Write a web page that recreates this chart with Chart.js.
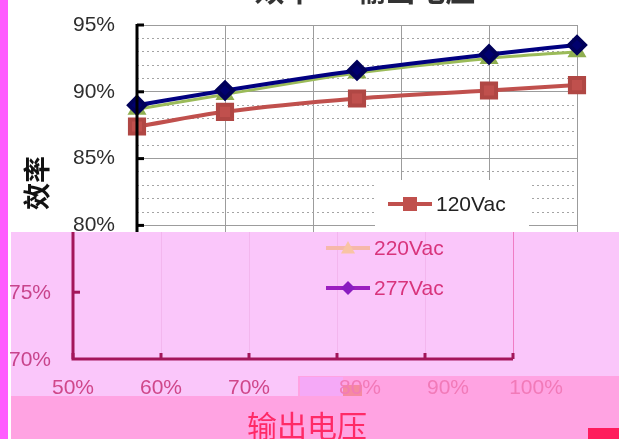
<!DOCTYPE html>
<html>
<head>
<meta charset="utf-8">
<script src="https://cdn.jsdelivr.net/npm/chart.js@4/dist/chart.umd.min.js"></script>
<style>
    html, body { margin: 0; padding: 0; background: #fff; }
    canvas { display: block; }
</style>
</head>
<body>
<canvas id="graficoEficiencia" width="619" height="439"></canvas>
<script>
// DADOS
const tensao = [50, 60, 75, 90, 100];
const efic120 = [87.4, 88.5, 89.5, 90.1, 90.5];
const efic220 = [88.7, 89.8, 91.4, 92.5, 93.0];
const efic277 = [89.0, 90.1, 91.6, 92.8, 93.5];
const rotulos = ['120Vac', '220Vac', '277Vac'];
const ticksX = [50, 60, 70, 80, 90, 100];
const ticksY = [70, 75, 80, 85, 90, 95];
const tituloGrafico = '效率 — 输出电压';
const tituloX = '输出电压';
const tituloY = '效率';

const FONTE = "'Liberation Sans', Arial, sans-serif";
const FONTE_CJK = "'Noto Sans CJK SC', sans-serif";
const DESLOC = -64; // faixa rosa deslocada

const pontos = arr => tensao.map((v, i) => ({ x: v, y: arr[i] }));

// MARCADORES
function marcador(ctx, tipo, x, y, r, cor) {
    ctx.fillStyle = cor;
    ctx.beginPath();
    if (tipo === 'rect') {
        ctx.rect(x - r, y - r, 2 * r, 2 * r);
    } else if (tipo === 'rectRot') {
        ctx.moveTo(x, y - r); ctx.lineTo(x + r, y); ctx.lineTo(x, y + r); ctx.lineTo(x - r, y);
    } else {
        ctx.moveTo(x, y - r); ctx.lineTo(x + r, y + r * 0.8); ctx.lineTo(x - r, y + r * 0.8);
    }
    ctx.closePath();
    ctx.fill();
}

function itemLegenda(ctx, x, y, cor, corMarca, tipo, r, texto, corTexto) {
    ctx.strokeStyle = cor;
    ctx.lineWidth = 4;
    ctx.beginPath(); ctx.moveTo(x, y); ctx.lineTo(x + 44, y); ctx.stroke();
    marcador(ctx, tipo, x + 22, y, r, corMarca);
    ctx.fillStyle = corTexto;
    ctx.font = '21px ' + FONTE;
    ctx.textAlign = 'left';
    ctx.textBaseline = 'middle';
    ctx.fillText(texto, x + 48, y + 1);
}

// CAMADA FINAL: eixos, legenda e faixa rosa
const camada = {
    id: 'camada',
    afterDraw(chart) {
        const { ctx, scales: { x, y } } = chart;
        const px = v => x.getPixelForValue(v);
        const py = v => y.getPixelForValue(v);
        const ds = chart.data.datasets;
        ctx.save();

        // titulo (cortado no topo)
        ctx.fillStyle = '#333';
        ctx.font = 'bold 30px ' + FONTE_CJK;
        ctx.textAlign = 'center';
        ctx.textBaseline = 'alphabetic';
        ctx.fillText(tituloGrafico, 365, 1);

        // eixo Y preto
        ctx.strokeStyle = '#000';
        ctx.lineWidth = 3;
        ctx.beginPath(); ctx.moveTo(px(50), py(95) - 1); ctx.lineTo(px(50), py(70)); ctx.stroke();
        ticksY.forEach(v => {
            ctx.beginPath(); ctx.moveTo(px(50), py(v)); ctx.lineTo(px(50) + 7, py(v)); ctx.stroke();
        });

        // titulo eixo Y
        ctx.save();
        ctx.translate(37, 183);
        ctx.rotate(-Math.PI / 2);
        ctx.fillStyle = '#111';
        ctx.font = 'bold 27px ' + FONTE_CJK;
        ctx.textAlign = 'center';
        ctx.textBaseline = 'middle';
        ctx.fillText(tituloY, 0, 0);
        ctx.restore();

        // legenda
        ctx.fillStyle = '#fff';
        ctx.fillRect(375, 180, 154, 60);
        itemLegenda(ctx, 388, 204, ds[0].borderColor, ds[0].pointBackgroundColor, 'rect', 7, ds[0].label, '#222');

        // faixa rosa
        ctx.fillStyle = '#ff5cff';
        ctx.fillRect(0, 0, 8, 439);
        ctx.fillStyle = '#fac6fa';
        ctx.fillRect(11, 232, 608, 207);
        ctx.fillStyle = '#ffa3e2';
        ctx.fillRect(298, 376, 321, 63);
        ctx.fillRect(11, 396, 608, 43);

        const topo = 232;
        const base = py(70);
        const esq = px(50) + DESLOC;
        const dir = px(100) + DESLOC;

        // grade rosa
        ctx.lineWidth = 1;
        ctx.strokeStyle = '#f3b6ee';
        ticksX.slice(1, -1).forEach(v => {
            ctx.beginPath(); ctx.moveTo(px(v) + DESLOC + 0.5, topo); ctx.lineTo(px(v) + DESLOC + 0.5, base); ctx.stroke();
        });
        ctx.strokeStyle = '#f07cc4';
        ctx.beginPath(); ctx.moveTo(dir + 0.5, topo); ctx.lineTo(dir + 0.5, base); ctx.stroke();

        // eixos rosa
        ctx.strokeStyle = '#a3165a';
        ctx.lineWidth = 3;
        ctx.beginPath(); ctx.moveTo(esq, topo); ctx.lineTo(esq, base); ctx.lineTo(dir, base); ctx.stroke();
        ticksX.forEach(v => {
            ctx.beginPath(); ctx.moveTo(px(v) + DESLOC, base); ctx.lineTo(px(v) + DESLOC, base - 6); ctx.stroke();
        });
        ctx.beginPath(); ctx.moveTo(esq, py(75)); ctx.lineTo(esq + 7, py(75)); ctx.stroke();

        // rotulos Y rosa
        ctx.fillStyle = '#c8448c';
        ctx.font = '21px ' + FONTE;
        ctx.textAlign = 'right';
        ctx.textBaseline = 'middle';
        ticksY.filter(v => v < 80).forEach(v => ctx.fillText(v + '%', px(50) - 22 + DESLOC, py(v) + 1));

        // rotulos X rosa
        ctx.fillStyle = '#f5a9f7';
        ctx.fillRect(300, 377, 43, 19);
        ctx.fillStyle = '#f58aa0';
        ctx.fillRect(343, 385, 19, 11);
        ctx.textAlign = 'center';
        ticksX.forEach(v => {
            const claro = v >= 80;
            ctx.fillStyle = claro ? '#f27ab8' : '#d0478a';
            ctx.fillText(v + '%', px(v) + (claro ? -41 : DESLOC), 388);
        });

        // legenda rosa
        itemLegenda(ctx, 326, 248, '#f6b8aa', '#f9c4a4', 'triangle', 7, ds[1].label, '#d8347c');
        itemLegenda(ctx, 326, 288, '#9b1fc0', '#8a1cc0', 'rectRot', 7, ds[2].label, '#d8347c');

        // titulo eixo X
        ctx.fillStyle = '#ff2a66';
        ctx.font = '30px ' + FONTE_CJK;
        ctx.textAlign = 'center';
        ctx.textBaseline = 'top';
        ctx.fillText(tituloX, 307, 411);

        // canto inferior
        ctx.fillStyle = '#ff1c5c';
        ctx.fillRect(588, 428, 31, 11);

        ctx.restore();
    }
};

// GRÁFICO LINHA
const grafico = document.getElementById('graficoEficiencia');
new Chart(grafico, {
    type: 'line',
    data: {
        datasets: [{
            label: rotulos[0],
            data: pontos(efic120),
            borderColor: '#c0504d',
            pointBackgroundColor: '#c0504d',
            pointBorderColor: '#b04744',
            pointStyle: 'rect',
            pointRadius: 10,
            borderWidth: 4,
            order: 2
        }, {
            label: rotulos[1],
            data: pontos(efic220),
            borderColor: '#9bbb59',
            pointBackgroundColor: '#9bbb59',
            pointBorderColor: '#8fae50',
            pointStyle: 'triangle',
            pointRadius: 8,
            borderWidth: 3,
            order: 1
        }, {
            label: rotulos[2],
            data: pontos(efic277),
            borderColor: '#000080',
            pointBackgroundColor: '#00006e',
            pointBorderColor: '#00005a',
            pointStyle: 'rectRot',
            pointRadius: 8,
            borderWidth: 4,
            order: 0
        }]
    },
    options: {
        responsive: false,
        animation: false,
        layout: { padding: { top: 25, right: 42, bottom: 0, left: 0 } },
        elements: { line: { cubicInterpolationMode: 'monotone' } },
        datasets: { line: { clip: false } },
        plugins: {
            legend: { display: false },
            tooltip: { enabled: false }
        },
        scales: {
            x: {
                type: 'linear',
                min: 50,
                max: 100,
                ticks: { display: false, stepSize: 10 },
                grid: { color: '#9c9c9c', drawTicks: false },
                border: { display: false },
                afterFit: s => { s.height = 80; s.paddingLeft = 0; s.paddingRight = 0; }
            },
            y: {
                min: 70,
                max: 95,
                ticks: {
                    stepSize: 1,
                    autoSkip: false,
                    padding: 22,
                    color: '#2e2e2e',
                    font: { family: FONTE, size: 21 },
                    callback: v => ticksY.includes(v) ? v + '%' : ''
                },
                grid: {
                    drawTicks: false,
                    color: c => (c.tick && c.tick.value % 5 !== 0) ? '#a4a4a4' : '#9c9c9c'
                },
                border: {
                    display: false,
                    dash: c => (c.tick && c.tick.value % 5 !== 0) ? [2, 3] : []
                },
                afterFit: s => { s.width = 137; s.paddingTop = 0; s.paddingBottom = 0; }
            }
        }
    },
    plugins: [camada]
});
</script>
</body>
</html>
